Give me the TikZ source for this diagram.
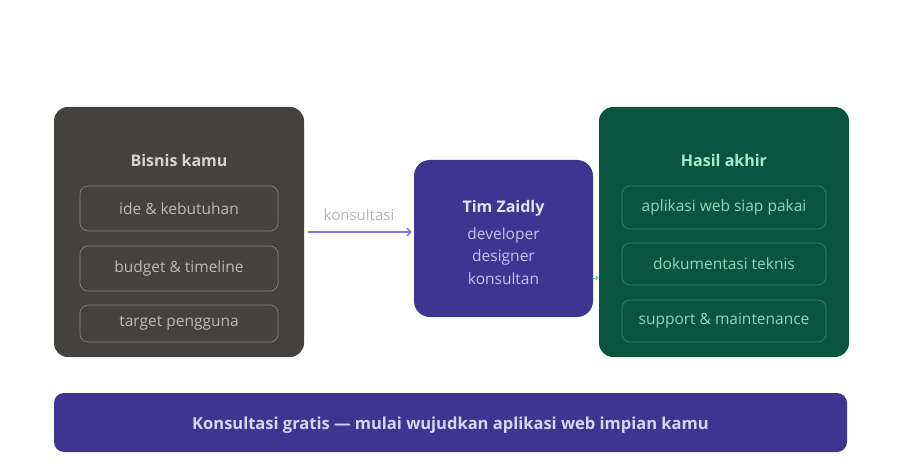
\documentclass[tikz,border=0pt]{standalone}
\usepackage{fontspec}
\setmainfont{Open Sans}
\usetikzlibrary{arrows.meta}

\definecolor{bizfill}{HTML}{44423E}
\definecolor{bizline}{HTML}{8A877F}
\definecolor{biztext}{HTML}{BDBAB2}
\definecolor{bizhead}{HTML}{D8D5CE}
\definecolor{timfill}{HTML}{3F3590}
\definecolor{timhead}{HTML}{E6E2FF}
\definecolor{timtext}{HTML}{C9C2F7}
\definecolor{flowline}{HTML}{7F77DD}
\definecolor{flowtext}{HTML}{B8B6AE}
\definecolor{hasilfill}{HTML}{0B5540}
\definecolor{hasilline}{HTML}{2F8A68}
\definecolor{hasiltext}{HTML}{8ADBB8}
\definecolor{hasilhead}{HTML}{A6EBCB}
\definecolor{handoff}{HTML}{5DCAA5}
\definecolor{bannertext}{HTML}{D9D5FA}

\begin{document}
\begin{tikzpicture}[
  x=1pt,
  y=-1pt,
  panel/.style={draw=none,rounded corners=14pt,inner sep=0pt},
  item/.style={rounded corners=8pt,line width=0.6pt,inner sep=0pt,
    minimum height=45pt,font=\fontsize{15.5}{18}\selectfont},
  head/.style={font=\fontsize{16}{19}\selectfont\bfseries,inner sep=0pt},
  flow/.style={line width=1.3pt,-{Straight Barb[length=4pt,width=8pt]}}
]
  \useasboundingbox[fill=white] (0,0) rectangle (900,476);

  % left panel
  \node[panel,fill=bizfill,minimum width=250pt,minimum height=250pt] (bisnis) at (179,232) {};
  \node[head,text=bizhead] (bisnishead) at (179,160.5) {Bisnis kamu};
  \node[item,draw=bizline,text=biztext,minimum width=198pt] (ide) at (179,208.5) {ide \& kebutuhan};
  \node[item,draw=bizline,text=biztext,minimum width=198pt] (budget) at (179,268.5) {budget \& timeline};
  \node[item,draw=bizline,text=biztext,minimum width=198pt,minimum height=37pt] (target) at (179,323.5) {target pengguna};

  % middle
  \node[panel,fill=timfill,rounded corners=16pt,minimum width=179pt,minimum height=157pt] (tim) at (503.5,238.5) {};
  \node[head,text=timhead] (timhead) at (503.5,208) {Tim Zaidly};
  \node[inner sep=0pt,align=center,text=timtext,font=\fontsize{15.5}{22.5}\selectfont] (timrole) at (503.5,256) {developer\\designer\\konsultan};

  % right panel
  \node[panel,fill=hasilfill,minimum width=250pt,minimum height=250pt] (hasil) at (724,232) {};
  \node[head,text=hasilhead] (hasilhead) at (724,160.5) {Hasil akhir};
  \node[item,draw=hasilline,text=hasiltext,minimum width=204pt,minimum height=43pt] (aplikasi) at (724,207.5) {aplikasi web siap pakai};
  \node[item,draw=hasilline,text=hasiltext,minimum width=204pt,minimum height=42pt] (dokumen) at (724,264) {dokumentasi teknis};
  \node[item,draw=hasilline,text=hasiltext,minimum width=204pt,minimum height=42pt] (support) at (724,321) {support \& maintenance};

  % connectors
  \draw[flow,draw=flowline,shorten <=4pt,shorten >=2pt] (bisnis.east |- 0,232) -- node[above=11pt,text=flowtext,font=\fontsize{15}{18}\selectfont,inner sep=0pt] (konsul) {konsultasi} (tim.west |- 0,232);
  \draw[draw=handoff,line width=1pt,-{Triangle[length=3pt,width=5pt]}] (tim.east |- 0,278) -- (hasil.west |- 0,278);

  % banner
  \node[panel,fill=timfill,rounded corners=10pt,minimum width=793pt,minimum height=59pt,
    text height=15pt,text depth=1pt,
    text=bannertext,font=\fontsize{16.5}{19}\selectfont\bfseries] (banner) at (450.5,422.5) {Konsultasi gratis — mulai wujudkan aplikasi web impian kamu};
\end{tikzpicture}
\end{document}
